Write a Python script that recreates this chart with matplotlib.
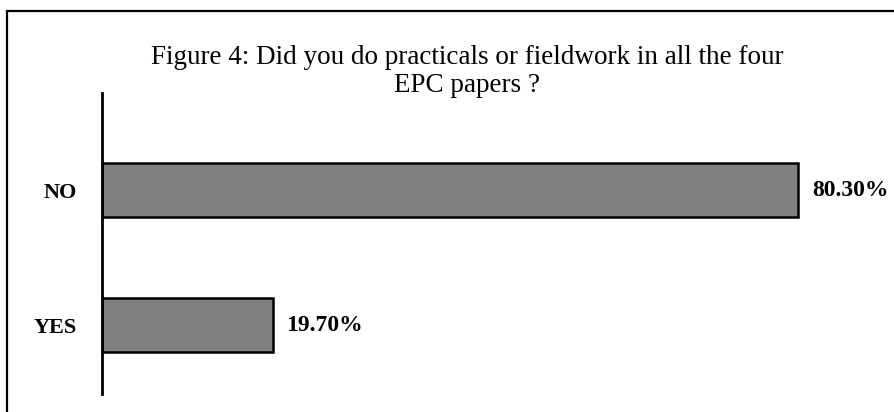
import matplotlib.pyplot as plt
from matplotlib.patches import Rectangle

categories = ["YES", "NO"]
percent = [19.70, 80.30]
title = "Figure 4: Did you do practicals or fieldwork in all the four\nEPC papers ?"

plt.rcParams['font.family'] = ['Liberation Serif', 'DejaVu Serif']

fig = plt.figure(figsize=(8.94, 4.12), dpi=100)

# outer frame (right and bottom edges run off the canvas)
fig.patches.append(Rectangle((7 / 894, -0.2), 1.2, 1.2 + (412 - 11) / 412 - 1.0,
                             transform=fig.transFigure, fill=False,
                             edgecolor="black", linewidth=1.6, clip_on=False))

fig.text(467 / 894, 1 - 45 / 412, title, ha="center", va="top",
         fontsize=19.5, linespacing=1.15)

ax = fig.add_axes([102 / 894, 18 / 412, 780 / 894, 301 / 412])
ax.barh(range(len(categories)), percent, height=0.4, color="#808080",
        edgecolor="black", linewidth=1.8)

for i, v in enumerate(percent):
    ax.text(v + 1.6, i, f"{v:.2f}%", va="center", ha="left",
            fontsize=17, fontweight="bold")

ax.set_xlim(0, 90)
ax.set_ylim(-0.51, 1.72)
ax.set_yticks(range(len(categories)))
ax.set_yticklabels(categories, fontsize=16, fontweight="bold")
ax.tick_params(axis="y", length=0, pad=18)
ax.set_xticks([])
for side in ["top", "right", "bottom"]:
    ax.spines[side].set_visible(False)
ax.spines["left"].set_linewidth(2)

fig.savefig("out.png", dpi=100)
